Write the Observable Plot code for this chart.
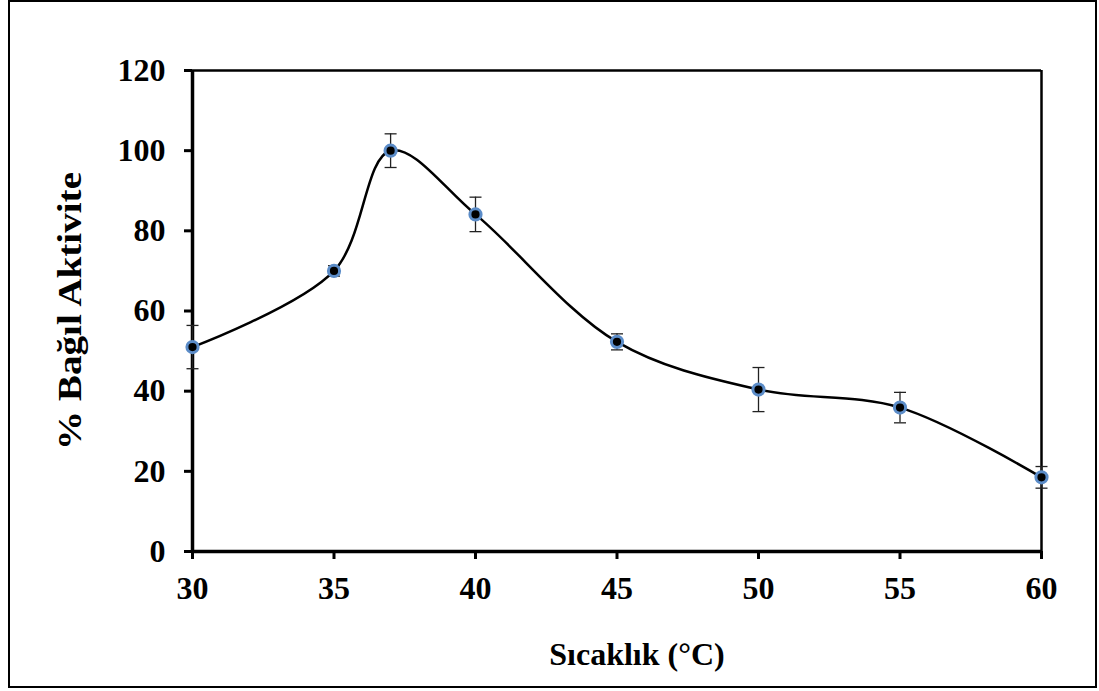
<!DOCTYPE html>
<html>
<head>
<meta charset="utf-8">
<script src="https://cdn.jsdelivr.net/npm/d3@7"></script>
<script src="https://cdn.jsdelivr.net/npm/@observablehq/plot@0.6"></script>
<style>
  html, body { margin: 0; padding: 0; background: #fff; }
  #wrap { position: relative; width: 1099px; height: 691px; }
  #border { position: absolute; left: 8px; top: 0px; width: 1085px; height: 684px; border: 2px solid #000; pointer-events: none; }
  #chart { position: absolute; left: 0; top: 0; }
</style>
</head>
<body>
<div id="wrap">
  <div id="chart"></div>
  <div id="border"></div>
</div>
<script>
// Relative enzyme activity (%) versus temperature (°C), with standard deviations
const temperatures = [30, 35, 37, 40, 45, 50, 55, 60];
const activity     = [51.0, 70.0, 100.0, 84.1, 52.3, 40.4, 35.9, 18.5];
const deviation    = [5.4, 1.3, 4.2, 4.3, 2.0, 5.5, 3.8, 2.7];

const xTicks = [30, 35, 40, 45, 50, 55, 60];
const yTicks = [0, 20, 40, 60, 80, 100, 120];

const xTitle = "Sıcaklık (°C)";
const yTitle = "% Bağıl Aktivite";

const rows = temperatures.map((t, i) => ({
  t,
  v: activity[i],
  lo: activity[i] - deviation[i],
  hi: activity[i] + deviation[i]
}));

// horizontal cap symbol for the error bars
const capSymbol = {
  draw(context, size) {
    const r = Math.sqrt(size / Math.PI);
    context.moveTo(-r, 0);
    context.lineTo(r, 0);
  }
};

const font = "'Liberation Serif', 'Times New Roman', serif";

const chart = Plot.plot({
  width: 1099,
  height: 691,
  marginLeft: 192,
  marginRight: 58,
  marginTop: 70,
  marginBottom: 140,
  style: { fontFamily: font, fontSize: "32px", fontWeight: "bold", color: "#000", background: "transparent" },
  x: { domain: [30, 60] },
  y: { domain: [0, 120] },
  marks: [
    // frame: heavy left/bottom axes, lighter top/right edges
    Plot.ruleX([60], { stroke: "#000", strokeWidth: 2.5 }),
    Plot.ruleY([120], { stroke: "#000", strokeWidth: 2.5 }),
    Plot.axisY({ ticks: yTicks, tickSize: 8, tickPadding: 19, strokeWidth: 3, label: null, tickFormat: d3.format("d") }),
    Plot.axisX({ ticks: xTicks, tickSize: 8, tickPadding: 17, strokeWidth: 3, label: null, tickFormat: d3.format("d") }),
    Plot.ruleX([30], { stroke: "#000", strokeWidth: 3.5 }),
    Plot.ruleY([0], { stroke: "#000", strokeWidth: 3.5 }),
    // error bars
    Plot.ruleX(rows, { x: "t", y1: "lo", y2: "hi", stroke: "#222", strokeWidth: 1.3 }),
    Plot.dot(rows, { x: "t", y: "lo", symbol: capSymbol, r: 6, stroke: "#222", strokeWidth: 1.3 }),
    Plot.dot(rows, { x: "t", y: "hi", symbol: capSymbol, r: 6, stroke: "#222", strokeWidth: 1.3 }),
    // smoothed curve
    Plot.line(rows, { x: "t", y: "v", curve: "catmull-rom", stroke: "#000", strokeWidth: 2.5 }),
    // markers
    Plot.dot(rows, { x: "t", y: "v", r: 5.6, fill: "#000", stroke: "#5b8cc8", strokeWidth: 3 }),
    // axis titles
    Plot.text([yTitle], { frameAnchor: "left", textAnchor: "middle", dx: -122, rotate: -90, text: d => d, fontSize: 33, fontWeight: "bold" }),
    Plot.text([xTitle], { frameAnchor: "bottom", textAnchor: "middle", dx: 20, dy: 113, text: d => d, fontSize: 32, fontWeight: "bold" })
  ]
});

// the vertical title is set a little wider than its natural length
d3.select(chart).selectAll("text")
  .filter(function () { return this.textContent === yTitle; })
  .attr("textLength", 278)
  .attr("lengthAdjust", "spacingAndGlyphs");

document.getElementById("chart").appendChild(chart);
</script>
</body>
</html>
